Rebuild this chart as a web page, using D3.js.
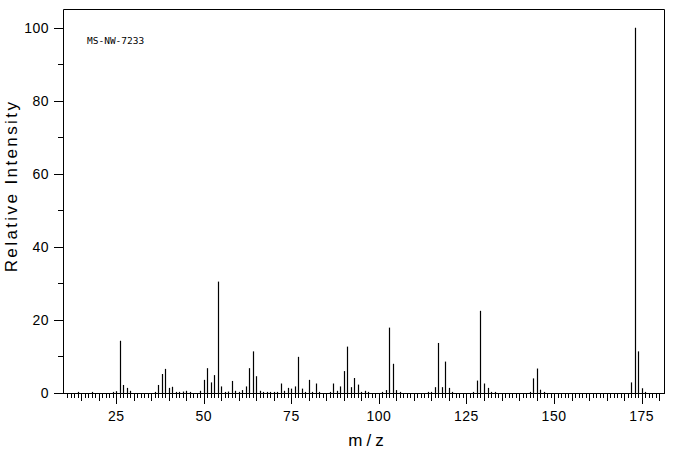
<!DOCTYPE html>
<html>
<head>
<meta charset="utf-8">
<script src="https://cdn.jsdelivr.net/npm/d3@7"></script>
<style>
  body { margin: 0; background: #fff; }
  text { font-family: "Liberation Sans", Arial, sans-serif; fill: #000; }
  text.mono { font-family: "DejaVu Sans Mono", monospace; }
</style>
</head>
<body>
<svg id="chart"></svg>
<script>
// peaks (m/z, relative intensity)
const mz = [14, 18, 24, 25, 26, 27, 28, 29,
  36, 37, 38, 39, 40, 41, 42, 43, 44, 45, 46,
  49, 50, 51, 52, 53, 54, 55, 56, 57, 58, 59, 60, 61, 62, 63, 64, 65, 66, 67, 68, 69, 70,
  71, 72, 73, 74, 75, 76, 77, 78, 79, 80, 81, 82, 83, 86, 87, 88, 89, 90, 91, 92, 93, 94, 95, 96, 97,
  101, 102, 103, 104, 105, 106, 114, 115, 116, 117, 118, 119, 120, 121,
  127, 128, 129, 130, 131, 132, 133, 143, 144, 145, 146, 147,
  172, 173, 174, 175, 176];
const intensity = [0.3, 0.3, 0.3, 0.5, 14.3, 2.2, 1.4, 0.6,
  0.3, 2.2, 5.2, 6.6, 1.4, 1.7, 0.3, 0.3, 0.4, 0.6, 0.3,
  0.6, 3.6, 6.8, 2.9, 4.9, 30.5, 1.8, 0.3, 0.4, 3.3, 0.6, 0.3, 0.8, 1.8, 6.8, 11.4, 4.6, 0.6, 0.3, 0.3, 0.3, 0.3,
  0.3, 2.6, 0.6, 1.4, 1.2, 1.8, 9.9, 1.2, 0.3, 3.6, 0.3, 2.6, 0.3, 0.3, 2.6, 0.6, 1.8, 6.0, 12.7, 1.6, 4.1, 2.3, 0.3, 0.6, 0.3,
  0.3, 0.8, 17.9, 8.0, 0.8, 0.3, 0.3, 0.3, 1.6, 13.7, 1.6, 8.6, 1.4, 0.3,
  0.3, 3.4, 22.5, 2.6, 1.4, 0.3, 0.3, 0.3, 4.0, 6.7, 0.9, 0.3,
  2.9, 100, 11.4, 1.3, 0.3];
const yTicks = [0, 20, 40, 60, 80, 100];
const xLabels = [25, 50, 75, 100, 125, 150, 175];
const sampleId = "MS-NW-7233";

const width = 676, height = 455;
const plotLeft = 63, plotRight = 664, plotTop = 9.5, plotBottom = 393;

const svg = d3.select("#chart")
  .attr("width", width)
  .attr("height", height);

const x = d3.scaleLinear().domain([9.78, 181.4]).range([plotLeft, plotRight]);
const y = d3.scaleLinear().domain([0, 105]).range([plotBottom, plotTop]);

const px = v => Math.round(x(v)) + 0.5;

// frame (top, left, right) and the baseline
svg.append("path")
  .attr("d", `M${plotLeft + 0.5},${plotBottom}V${plotTop}H${plotRight + 0.5}V${plotBottom}`)
  .attr("fill", "none")
  .attr("stroke", "#000");
svg.append("line")
  .attr("x1", plotLeft).attr("x2", plotRight + 1)
  .attr("y1", plotBottom + 0.5).attr("y2", plotBottom + 0.5)
  .attr("stroke", "#000");

// x ticks, one per mass unit, below the axis
const xt = d3.range(11, 181);
svg.append("g").selectAll("line")
  .data(xt)
  .join("line")
  .attr("x1", d => px(d)).attr("x2", d => px(d))
  .attr("y1", plotBottom)
  .attr("y2", d => plotBottom + (d % 25 === 0 ? 11 : d % 5 === 0 ? 8 : 5))
  .attr("stroke", "#000");

svg.append("g").selectAll("text")
  .data(xLabels)
  .join("text")
  .attr("x", d => x(d))
  .attr("y", 421)
  .attr("text-anchor", "middle")
  .attr("font-size", 14)
  .attr("letter-spacing", 0.5)
  .text(d => d);

// y ticks
const yMinor = d3.range(10, 101, 20);
svg.append("g").selectAll("line")
  .data(yTicks)
  .join("line")
  .attr("x1", plotLeft - 9).attr("x2", plotLeft)
  .attr("y1", d => Math.round(y(d)) + 0.5).attr("y2", d => Math.round(y(d)) + 0.5)
  .attr("stroke", "#000");
svg.append("g").selectAll("line")
  .data(yMinor)
  .join("line")
  .attr("x1", plotLeft - 5).attr("x2", plotLeft)
  .attr("y1", d => Math.round(y(d)) + 0.5).attr("y2", d => Math.round(y(d)) + 0.5)
  .attr("stroke", "#000");
svg.append("g").selectAll("text")
  .data(yTicks)
  .join("text")
  .attr("x", 49)
  .attr("y", d => y(d) + 5)
  .attr("text-anchor", "end")
  .attr("font-size", 14)
  .attr("letter-spacing", 0.5)
  .text(d => d);

// peaks
svg.append("g").selectAll("line")
  .data(mz.map((m, i) => ({ m, v: intensity[i] })))
  .join("line")
  .attr("x1", d => px(d.m)).attr("x2", d => px(d.m))
  .attr("y1", plotBottom)
  .attr("y2", d => y(d.v))
  .attr("stroke", "#000")
  .attr("stroke-width", 1.2);

// labels
svg.append("text")
  .attr("class", "mono")
  .attr("x", 87).attr("y", 44)
  .attr("font-size", 9.5)
  .text(sampleId);

svg.append("text")
  .attr("transform", "translate(17,186) rotate(-90)")
  .attr("text-anchor", "middle")
  .attr("font-size", 17)
  .attr("letter-spacing", 2.4)
  .text("Relative Intensity");

svg.append("text")
  .attr("x", 368).attr("y", 446)
  .attr("text-anchor", "middle")
  .attr("font-size", 17)
  .attr("letter-spacing", 4)
  .text("m/z");
</script>
</body>
</html>
